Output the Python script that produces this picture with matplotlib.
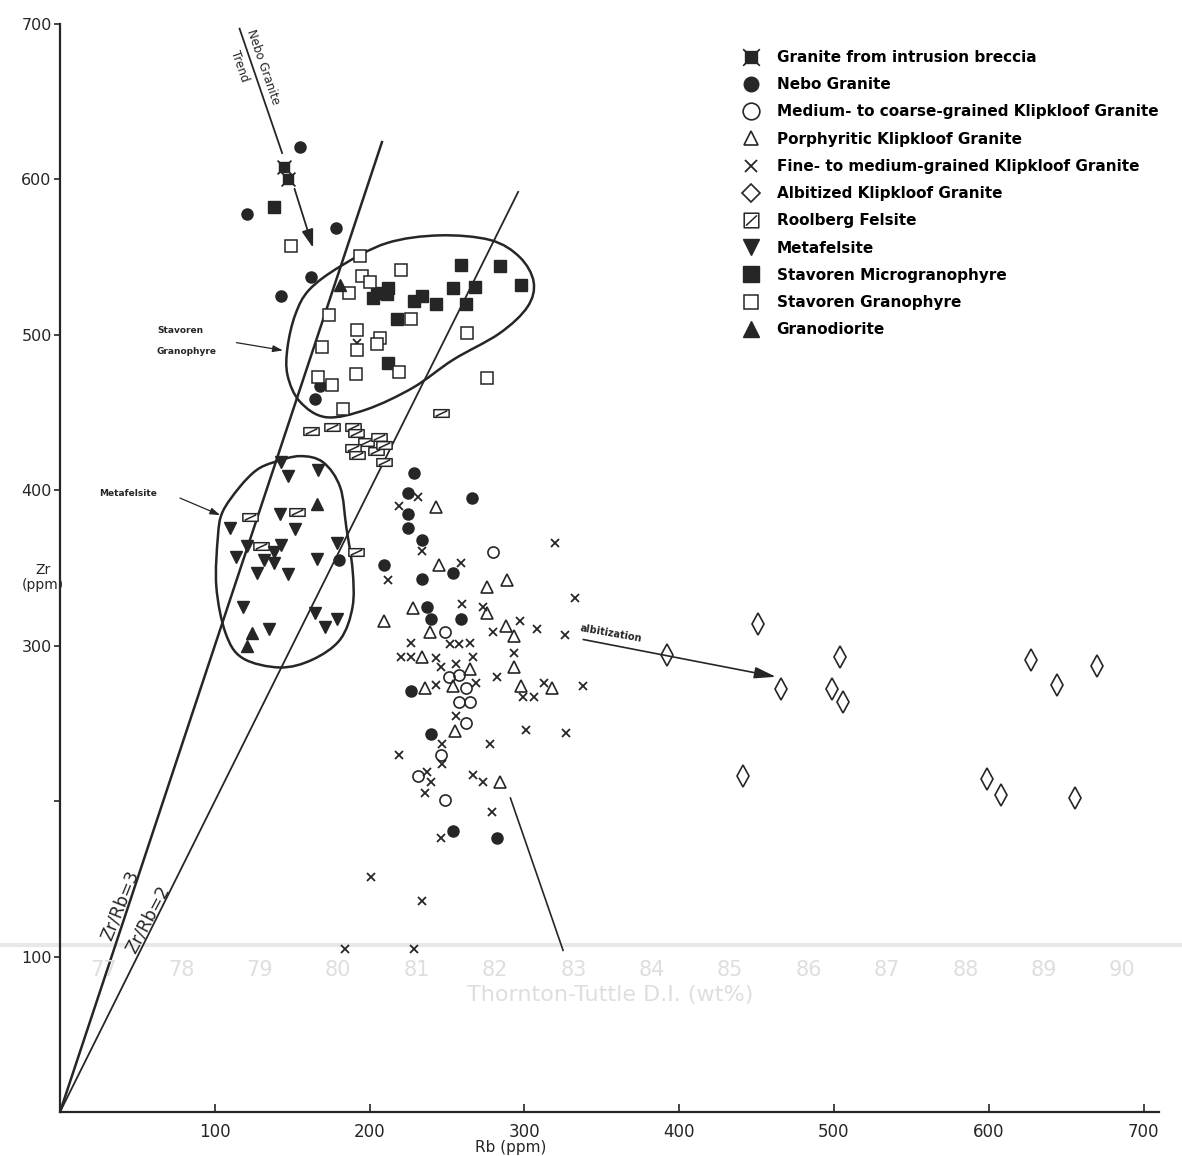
"""Zr against Rb for the Nebo, Klipkloof, Stavoren and Roolberg rocks.

Recreated from a scanned plate, so the faint show-through from the page
underneath is drawn in pale grey as well.
"""

import matplotlib

matplotlib.use("Agg")

import matplotlib.pyplot as plt
import numpy as np
from matplotlib.lines import Line2D
from matplotlib.patches import PathPatch
from matplotlib.path import Path

INK = "#262626"
GHOST = "#dedede"

# ---- data (Rb ppm, Zr ppm) ----
BRECCIA_RB = [145, 147]
BRECCIA_ZR = [608, 600]

NEBO_RB = [155, 121, 178, 162, 143, 168, 165, 229, 225, 225, 225, 234, 266,
           209, 180, 234, 254, 237, 240, 259, 227, 240, 254, 282]
NEBO_ZR = [621, 578, 569, 537, 525, 467, 459, 411, 398, 385, 376, 368, 395,
           352, 355, 343, 347, 325, 317, 317, 271, 243, 181, 176]

MEDIUM_RB = [280, 249, 251, 258, 262, 258, 265, 262, 246, 231, 249]
MEDIUM_ZR = [360, 309, 280, 281, 273, 264, 264, 250, 230, 216, 201]

PORPH_RB = [243, 245, 276, 289, 228, 276, 209, 288, 293, 239, 234, 265, 293,
            236, 254, 298, 318, 255, 284]
PORPH_ZR = [389, 352, 338, 342, 324, 321, 316, 313, 306, 309, 293, 285, 286,
            273, 274, 274, 273, 245, 212]

FINE_RB = [192, 231, 219, 234, 259, 212, 320, 333, 260, 273, 297, 308, 280,
           326, 227, 252, 258, 265, 220, 227, 243, 267, 293, 246, 256, 282,
           243, 269, 313, 338, 299, 306, 256, 301, 327, 247, 278, 219, 247,
           237, 267, 273, 240, 236, 279, 246, 201, 234, 184, 229]
FINE_ZR = [495, 396, 390, 361, 353, 342, 366, 331, 327, 325, 316, 311, 309,
           307, 302, 301, 301, 302, 293, 293, 292, 293, 295, 286, 288, 280,
           275, 276, 276, 274, 267, 267, 255, 246, 244, 237, 237, 230, 224,
           219, 217, 212, 212, 205, 193, 176, 151, 136, 105, 105]

ALBITE_RB = [451, 392, 504, 627, 670, 466, 499, 506, 644, 441, 599, 608, 656]
ALBITE_ZR = [314, 294, 293, 291, 287, 272, 272, 264, 275, 216, 214, 204, 202]

ROOLBERG_RB = [162, 176, 189, 191, 198, 206, 189, 192, 204, 209, 209, 246,
               123, 153, 130, 191]
ROOLBERG_ZR = [438, 441, 441, 437, 431, 434, 427, 423, 425, 429, 418, 450,
               383, 386, 364, 360]

META_RB = [143, 147, 167, 142, 110, 152, 121, 143, 114, 132, 138, 138, 127,
           147, 166, 179, 118, 135, 165, 171, 179]
META_ZR = [418, 409, 413, 385, 376, 375, 364, 365, 357, 355, 360, 353, 347,
           346, 356, 366, 325, 311, 321, 312, 317]

MICRO_RB = [138, 259, 284, 298, 254, 268, 212, 205, 202, 211, 234, 229, 243,
            262, 218, 212]
MICRO_ZR = [582, 545, 544, 532, 530, 531, 530, 527, 524, 526, 525, 522, 520,
            520, 510, 482]

GRANO_RB = [149, 194, 220, 195, 200, 187, 174, 227, 192, 207, 205, 263, 169,
            192, 191, 219, 276, 167, 176, 183]
GRANO_ZR = [557, 551, 542, 538, 534, 527, 513, 510, 503, 498, 494, 501, 492,
            490, 475, 476, 472, 473, 468, 452]

GRANODIORITE_RB = [181, 166, 124, 121]
GRANODIORITE_ZR = [532, 391, 308, 300]

# field outlines drawn by hand on the plate
STAVOREN_RB = [147, 152, 161, 181, 211, 245, 278, 297, 306, 302, 284, 254,
               228, 198, 172, 155, 147]
STAVOREN_ZR = [492, 513, 529, 544, 559, 564, 561, 550, 534, 518, 501, 484,
               466, 452, 447, 457, 474]
METAFELSITE_RB = [138, 155, 170, 181, 185, 189, 189, 181, 163, 142, 118, 107,
                  101, 102, 105, 116, 127]
METAFELSITE_ZR = [418, 422, 418, 402, 376, 349, 325, 304, 291, 286, 292, 308,
                  338, 370, 386, 402, 413]

RATIO_LINES = [(3, 208, "Zr/Rb=3"), (2, 296, "Zr/Rb=2")]

LEGEND_LABELS = [
    "Granite from intrusion breccia",
    "Nebo Granite",
    "Medium- to coarse-grained Klipkloof Granite",
    "Porphyritic Klipkloof Granite",
    "Fine- to medium-grained Klipkloof Granite",
    "Albitized Klipkloof Granite",
    "Roolberg Felsite",
    "Metafelsite",
    "Stavoren Microgranophyre",
    "Stavoren Granophyre",
    "Granodiorite",
]

GHOST_TICKS = [str(v) for v in range(77, 91)]

BRECCIA_MARKER = Path(
    [(-0.7, -0.7), (0.7, -0.7), (0.7, 0.7), (-0.7, 0.7), (-0.7, -0.7),
     (-1, -1), (1, 1), (-1, 1), (1, -1)],
    [Path.MOVETO, Path.LINETO, Path.LINETO, Path.LINETO, Path.CLOSEPOLY,
     Path.MOVETO, Path.LINETO, Path.MOVETO, Path.LINETO],
)


def slashed_box(aspect):
    h = aspect
    return Path(
        [(-1, -h), (1, -h), (1, h), (-1, h), (-1, -h),
         (-0.75, -0.7 * h), (0.75, 0.7 * h)],
        [Path.MOVETO, Path.LINETO, Path.LINETO, Path.LINETO, Path.CLOSEPOLY,
         Path.MOVETO, Path.LINETO],
    )


def smooth_outline(rb, zr):
    pts = np.column_stack([rb, zr]).astype(float)
    n = len(pts)
    verts = [pts[0]]
    codes = [Path.MOVETO]
    for i in range(n):
        p0, p1, p2, p3 = pts[i - 1], pts[i], pts[(i + 1) % n], pts[(i + 2) % n]
        verts += [p1 + (p2 - p0) / 6, p2 - (p3 - p1) / 6, p2]
        codes += [Path.CURVE4] * 3
    return Path(verts, codes)


# (rb, zr, plot style, legend marker override)
STYLES = [
    (BRECCIA_RB, BRECCIA_ZR, dict(marker=BRECCIA_MARKER, ms=10, mfc=INK, mec=INK, mew=1.2),
     dict(ms=12)),
    (NEBO_RB, NEBO_ZR, dict(marker="o", ms=8, mfc=INK, mec=INK), dict(ms=10.5)),
    (MEDIUM_RB, MEDIUM_ZR, dict(marker="o", ms=8, mfc="none", mec=INK, mew=1.2),
     dict(ms=12)),
    (PORPH_RB, PORPH_ZR, dict(marker="^", ms=9, mfc="none", mec=INK, mew=1.2),
     dict(ms=10.5)),
    (FINE_RB, FINE_ZR, dict(marker="x", ms=5.5, mec=INK, mew=1.3), dict(ms=8.5)),
    (ALBITE_RB, ALBITE_ZR, dict(marker="d", ms=11, mfc="none", mec=INK, mew=1.2),
     dict(marker="D", ms=9.5)),
    (ROOLBERG_RB, ROOLBERG_ZR,
     dict(marker=slashed_box(0.5), ms=11, mfc="white", mec=INK, mew=1.1),
     dict(marker=slashed_box(1.0), ms=10.5)),
    (META_RB, META_ZR, dict(marker="v", ms=9, mfc=INK, mec=INK), dict(ms=11.5)),
    (MICRO_RB, MICRO_ZR, dict(marker="s", ms=8, mfc=INK, mec=INK), dict(ms=11)),
    (GRANO_RB, GRANO_ZR, dict(marker="s", ms=8, mfc="white", mec=INK, mew=1.1),
     dict(ms=10.5)),
    (GRANODIORITE_RB, GRANODIORITE_ZR, dict(marker="^", ms=9, mfc=INK, mec=INK),
     dict(ms=11.5)),
]


def draw_ghost(fig):
    """Pale show-through from the neighbouring page of the scan."""
    fig.add_artist(Line2D([0, 1], [1 - 945 / 1156] * 2, color="#e8e8e8",
                          lw=3, transform=fig.transFigure, zorder=0))
    for i, label in enumerate(GHOST_TICKS):
        fig.text((103 + 78.4 * i) / 1182, 1 - 970 / 1156, label, ha="center",
                 va="center", fontsize=15, color=GHOST, zorder=0)
    fig.text(610 / 1182, 1 - 995 / 1156, "Thornton-Tuttle D.I. (wt%)",
             ha="center", va="center", fontsize=16, color=GHOST, zorder=0)


def main():
    fig = plt.figure(figsize=(11.82, 11.56), dpi=100)
    draw_ghost(fig)
    ax = fig.add_axes([60 / 1182, 44 / 1156, 1099 / 1182, 1088 / 1156])
    ax.set_xlim(0, 710)
    ax.set_ylim(0, 700)
    ax.patch.set_alpha(0)

    for side in ("top", "right"):
        ax.spines[side].set_visible(False)
    for side in ("left", "bottom"):
        ax.spines[side].set_linewidth(1.6)
        ax.spines[side].set_color(INK)

    ax.set_xticks(range(100, 701, 100))
    ax.set_xticklabels([str(v) for v in range(100, 701, 100)], fontsize=12, color=INK)
    ax.set_yticks(range(100, 701, 100))
    ax.set_yticklabels(["100", "", "300", "400", "500", "600", "700"],
                       fontsize=11.5, color=INK)
    ax.tick_params(axis="x", direction="in", length=6, width=1.2, pad=8, color=INK)
    ax.tick_params(axis="y", direction="out", length=4, width=1.2, pad=2, color=INK)

    ax.text(-11, 344, "Zr\n(ppm)", ha="center", va="center", fontsize=10,
            color=INK, linespacing=1.1, clip_on=False)
    ax.text(291, -23, "Rb (ppm)", ha="center", va="center", fontsize=11,
            color=INK, clip_on=False)

    # constant-ratio reference lines
    for ratio, rb_end, label in RATIO_LINES:
        ax.plot([0, rb_end], [0, ratio * rb_end], color=INK,
                lw=1.8 if ratio == 3 else 1.3, zorder=2)
    ax.text(39, 133, RATIO_LINES[0][2], rotation=68, ha="center", va="center",
            fontsize=12.5, color=INK, rotation_mode="anchor")
    ax.text(57, 124, RATIO_LINES[1][2], rotation=62, ha="center", va="center",
            fontsize=12.5, color=INK, rotation_mode="anchor")

    # hand-drawn fields
    for rb, zr in ((STAVOREN_RB, STAVOREN_ZR), (METAFELSITE_RB, METAFELSITE_ZR)):
        ax.add_patch(PathPatch(smooth_outline(rb, zr), fill=False,
                               edgecolor=INK, lw=1.8, zorder=2))

    # Nebo Granite trend
    ax.plot([116, 143.5], [697, 617], color=INK, lw=1.3, zorder=2)
    ax.annotate("", xy=(163.5, 556), xytext=(151.5, 594),
                arrowprops=dict(arrowstyle="-|>,head_length=1.1,head_width=0.35",
                                color=INK, lw=1.3, shrinkA=0, shrinkB=0))
    ax.text(131, 672, "Nebo Granite", rotation=-71, ha="center", va="center",
            fontsize=8.5, color=INK, rotation_mode="anchor")
    ax.text(116, 673, "Trend", rotation=-71, ha="center", va="center",
            fontsize=8.5, color=INK, rotation_mode="anchor")

    arrow = dict(arrowstyle="-|>,head_length=0.6,head_width=0.2", color=INK,
                 lw=0.9, shrinkA=0, shrinkB=0)
    ax.text(77.5, 503, "Stavoren", ha="center", va="center", fontsize=6.5,
            fontweight="bold", color=INK)
    ax.text(81.5, 489, "Granophyre", ha="center", va="center", fontsize=6.5,
            fontweight="bold", color=INK)
    ax.annotate("", xy=(144, 490), xytext=(114, 495), arrowprops=arrow)
    ax.text(44, 398, "Metafelsite", ha="center", va="center", fontsize=6.5,
            fontweight="bold", color=INK)
    ax.annotate("", xy=(103.5, 384), xytext=(77.5, 395), arrowprops=arrow)

    ax.annotate("", xy=(462.5, 280), xytext=(338, 304),
                arrowprops=dict(arrowstyle="-|>,head_length=1.3,head_width=0.35",
                                color=INK, lw=1.2, shrinkA=0, shrinkB=0))
    ax.text(356, 308, "albitization", rotation=-10, ha="center", va="center",
            fontsize=7, fontweight="bold", color=INK, rotation_mode="anchor")
    ax.plot([291, 325], [202, 104], color=INK, lw=1.2, zorder=2)

    for rb, zr, style, _ in STYLES:
        ax.plot(rb, zr, ls="none", zorder=3, **style)

    handles = []
    for _, _, style, legend_style in STYLES:
        handles.append(Line2D([], [], ls="none", **{**style, **legend_style}))
    ax.legend(handles, LEGEND_LABELS, loc="upper left",
              bbox_to_anchor=(743 / 1182, 1 - 50 / 1156),
              bbox_transform=fig.transFigure, frameon=False, borderpad=0,
              borderaxespad=0, handlelength=1.0, handletextpad=1.2,
              labelspacing=0.8,
              prop=dict(family="DejaVu Sans", weight="bold", size=11))

    fig.savefig("out.png", dpi=100, facecolor="white")
    plt.close(fig)


if __name__ == "__main__":
    main()
